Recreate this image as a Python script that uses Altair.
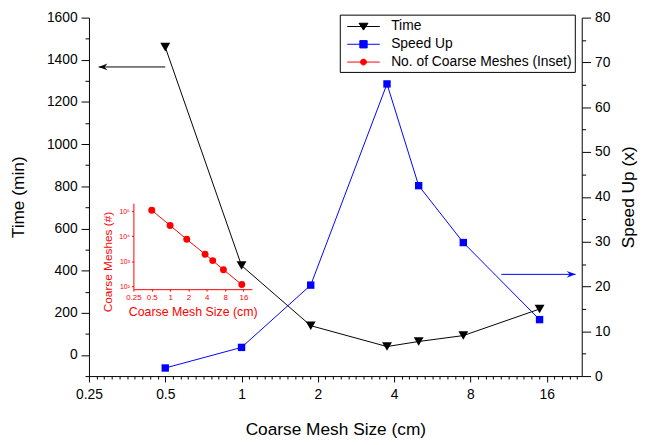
import altair as alt
import pandas as pd

# ---------------- data ----------------
mesh_size = [0.5, 1, 1.875, 3.75, 5, 7.5, 15]
time_min = [1460, 424, 139, 40, 64, 92, 218]
speed_up = [1.8, 6.4, 20.3, 65.2, 42.5, 29.8, 12.6]
coarse_meshes = [110000, 27000, 7500, 1900, 1050, 450, 115]

series_names = ["Time", "Speed Up", "No. of Coarse Meshes (Inset)"]
series_colors = ["#000000", "#0000ff", "#ff0000"]

x_ticks = [0.25, 0.5, 1, 2, 4, 8, 16]
x_domain = [0.25, 22]
time_ticks = [0, 200, 400, 600, 800, 1000, 1200, 1400, 1600]
time_minor = [-100, 100, 300, 500, 700, 900, 1100, 1300, 1500]
time_domain = [-100, 1600]
speed_ticks = [0, 10, 20, 30, 40, 50, 60, 70, 80]
speed_minor = [5, 15, 25, 35, 45, 55, 65, 75]
speed_domain = [0, 80]
inset_y_ticks = [100, 1000, 10000, 100000]
inset_y_labels = ["10²", "10³", "10⁴", "10⁵"]
inset_y_domain = [75, 210000]

# annotation arrows (data coordinates)
time_arrow_x = [0.5, 0.273]
time_arrow_y = [1366]
speed_arrow_x = [10.6, 20.8]
speed_arrow_y = [22.7]

# minor ticks of the log2 axis (9 per octave)
x_minor = [0.25 * 2 ** (k / 10) for k in range(1, 70) if k % 10 and 0.25 * 2 ** (k / 10) <= 22]

FONT = "Liberation Sans"

df = pd.DataFrame({"size": mesh_size, "time": time_min, "speed": speed_up, "meshes": coarse_meshes})

x_scale = alt.Scale(type="log", base=2, domain=x_domain, nice=False)
time_scale = alt.Scale(domain=time_domain, nice=False, zero=False)
speed_scale = alt.Scale(domain=speed_domain, nice=False)

major_x_axis = alt.Axis(orient="bottom", values=x_ticks, format="~g", tickSize=6, labelPadding=6,
                        labelFlush=False, labelOverlap=False, title="Coarse Mesh Size (cm)", titlePadding=19)
minor_x_axis = alt.Axis(orient="bottom", values=x_minor, labels=False, domain=False, tickSize=3, title=None)
time_axis = alt.Axis(orient="left", values=time_ticks, format="d", tickSize=8, labelPadding=4,
                     title="Time (min)", titlePadding=19)
time_minor_axis = alt.Axis(orient="left", values=time_minor, labels=False, domain=False, tickSize=4, title=None)
speed_axis = alt.Axis(orient="right", values=speed_ticks, format="d", tickSize=9, labelPadding=4,
                      title="Speed Up (x)", titleAngle=270, titleBaseline="top", titlePadding=10)
speed_minor_axis = alt.Axis(orient="right", values=speed_minor, labels=False, domain=False, tickSize=4, title=None)

# ---------------- main series ----------------
time_line = alt.Chart(df).mark_line(color="black", strokeWidth=1).encode(
    x=alt.X("size:Q", scale=x_scale, axis=major_x_axis),
    y=alt.Y("time:Q", scale=time_scale, axis=time_axis),
)
time_pts = alt.Chart(df).mark_point(shape="triangle-down", filled=True, size=100, color="black", opacity=1).encode(
    x=alt.X("size:Q", scale=x_scale, axis=minor_x_axis),
    y=alt.Y("time:Q", scale=time_scale, axis=time_minor_axis),
)
speed_line = alt.Chart(df).mark_line(color="#0000ff", strokeWidth=1).encode(
    x=alt.X("size:Q", scale=x_scale, axis=None),
    y=alt.Y("speed:Q", scale=speed_scale, axis=speed_axis),
)
speed_pts = alt.Chart(df).mark_point(shape="square", filled=True, size=56, color="#0000ff", opacity=1).encode(
    x=alt.X("size:Q", scale=x_scale, axis=None),
    y=alt.Y("speed:Q", scale=speed_scale, axis=speed_minor_axis),
)

# ---------------- arrows ----------------
ta = pd.DataFrame({"x": [time_arrow_x[0]], "x2": [time_arrow_x[1]], "y": time_arrow_y})
sa = pd.DataFrame({"x": [speed_arrow_x[0]], "x2": [speed_arrow_x[1]], "y": speed_arrow_y})
left_head = "M0,0L1,-0.38L0.65,0L1,0.38Z"
right_head = "M0,0L-1,-0.38L-0.65,0L-1,0.38Z"

time_arrow = alt.Chart(ta).mark_rule(color="black", strokeWidth=1).encode(
    x=alt.X("x:Q", scale=x_scale, axis=None), x2="x2:Q",
    y=alt.Y("y:Q", scale=time_scale, axis=None),
)
time_head = alt.Chart(ta).mark_point(shape=left_head, filled=True, size=324, color="black", opacity=1).encode(
    x=alt.X("x2:Q", scale=x_scale, axis=None),
    y=alt.Y("y:Q", scale=time_scale, axis=None),
)
speed_arrow = alt.Chart(sa).mark_rule(color="#0000ff", strokeWidth=1).encode(
    x=alt.X("x:Q", scale=x_scale, axis=None), x2="x2:Q",
    y=alt.Y("y:Q", scale=speed_scale, axis=None),
)
speed_head = alt.Chart(sa).mark_point(shape=right_head, filled=True, size=324, color="#0000ff", opacity=1).encode(
    x=alt.X("x2:Q", scale=x_scale, axis=None),
    y=alt.Y("y:Q", scale=speed_scale, axis=None),
)

# ---------------- inset ----------------
inset_x_scale = alt.Scale(type="log", base=2, domain=x_domain, range=[45, 165], nice=False)
inset_y_scale = alt.Scale(type="log", domain=inset_y_domain, range=[275, 188], nice=False)
label_expr = " : ".join(
    f"datum.value == {v} ? '{l}'" for v, l in zip(inset_y_ticks[:-1], inset_y_labels[:-1])
) + f" : '{inset_y_labels[-1]}'"

inset_x_axis = alt.Axis(orient="bottom", offset=-88, values=x_ticks, format="~g", tickSize=2, labelPadding=2,
                        labelFontSize=8, labelFlush=False, labelOverlap=False, labelColor="red",
                        domainColor="red", tickColor="red", title="Coarse Mesh Size (cm)",
                        titleFontSize=12.5, titleColor="red", titlePadding=5)
inset_y_axis = alt.Axis(orient="left", offset=-45, values=inset_y_ticks, labelExpr=label_expr, tickSize=2,
                        labelPadding=2, labelFontSize=7, labelOverlap=False, labelColor="red",
                        domainColor="red", tickColor="red", title="Coarse Meshes (#)",
                        titleFontSize=12, titleColor="red", titlePadding=4, titleY=247)

inset_line = alt.Chart(df).mark_line(color="red", strokeWidth=1).encode(
    x=alt.X("size:Q", scale=inset_x_scale, axis=inset_x_axis),
    y=alt.Y("meshes:Q", scale=inset_y_scale, axis=inset_y_axis),
)
inset_pts = alt.Chart(df).mark_circle(color="red", size=49, opacity=1).encode(
    x=alt.X("size:Q", scale=inset_x_scale, axis=None),
    y=alt.Y("meshes:Q", scale=inset_y_scale, axis=None),
)

# ---------------- legend ----------------
legend_paths = [
    "M-2,0L2,0M-0.55,-0.4L0.55,-0.4L0,0.44Z",
    "M-2,0L2,0M-0.45,-0.45L0.45,-0.45L0.45,0.45L-0.45,0.45Z",
    "M-2,0L2,0M-0.36,0A0.36,0.36,0,1,0,0.36,0A0.36,0.36,0,1,0,-0.36,0Z",
]
leg = alt.Legend(title=None, orient="none", legendX=254, legendY=-3, padding=3, symbolOffset=12,
                 labelOffset=19, rowPadding=2, symbolSize=272, symbolStrokeWidth=1, symbolOpacity=1,
                 strokeColor="black", fillColor="white", labelFontSize=14, labelFont=FONT,
                 labelColor="black", labelLimit=400, cornerRadius=0)
legend_df = pd.DataFrame({"series": series_names})
legend_layer = alt.Chart(legend_df).mark_point(opacity=0, filled=True).encode(
    x=alt.value(10), y=alt.value(10),
    fill=alt.Fill("series:N", scale=alt.Scale(domain=series_names, range=series_colors), legend=leg),
    stroke=alt.Stroke("series:N", scale=alt.Scale(domain=series_names, range=series_colors), legend=leg),
    shape=alt.Shape("series:N", scale=alt.Scale(domain=series_names, range=legend_paths), legend=leg),
)

chart = alt.layer(
    inset_line, inset_pts,
    time_line, time_pts,
    speed_line, speed_pts,
    time_arrow, time_head, speed_arrow, speed_head,
    legend_layer,
).resolve_scale(
    x="independent", y="independent", fill="independent", stroke="independent", shape="independent"
).properties(
    width=499, height=363,
    autosize=alt.AutoSizeParams(type="none"),
    padding={"left": 82, "top": 7, "right": 58, "bottom": 62},
).configure_axis(
    labelFont=FONT, titleFont=FONT, labelFontSize=14, titleFontSize=17.5, titleFontWeight="normal",
    labelColor="black", titleColor="black", domainColor="black", tickColor="black",
    grid=False, domainWidth=1, tickWidth=1,
).configure_view(stroke=None)

chart.save("out.html", embed_options={"renderer": "svg", "actions": False})
